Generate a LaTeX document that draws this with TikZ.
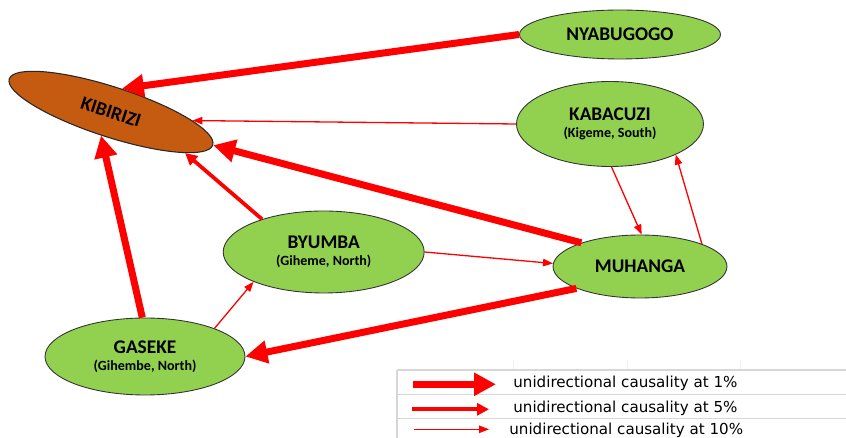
\documentclass[tikz,border=0pt]{standalone}
\usepackage{fontspec}
\setmainfont{Carlito}
\newfontfamily\legfont{DejaVu Sans}
\usetikzlibrary{arrows.meta,shapes.geometric}
\definecolor{sitegreen}{RGB}{146,208,80}
\definecolor{hubbrown}{RGB}{197,90,17}
\definecolor{gridgray}{RGB}{215,215,215}
\newcommand{\subloc}[1]{{\fontsize{8}{9}\selectfont #1}}

\begin{document}
\begin{tikzpicture}[x=0.02cm, y=-0.02cm, font=\fontsize{11}{9.5}\selectfont\bfseries]
\tikzstyle{site} = [ellipse, draw=black!80, line width=0.5pt, fill=sitegreen, inner sep=0pt, align=center]
\tikzstyle{sig1} = [-{Triangle[length=0.44cm, width=0.44cm]}, red, line width=0.14cm]
\tikzstyle{sig5} = [-{Triangle[length=0.24cm, width=0.24cm]}, red, line width=0.075cm]
\tikzstyle{sig10} = [-{Triangle[length=0.2cm, width=0.15cm]}, red, line width=0.026cm]
\tikzstyle{legtext} = [anchor=base west, inner sep=0pt, font=\legfont\fontsize{8.6}{10}\selectfont]
\useasboundingbox (0,0) rectangle (846,438);

% markets
\node[site, minimum width=4.02cm, minimum height=0.98cm] (nyab) at (620,34.5) {NYABUGOGO};
\node[ellipse, draw=black!85, line width=0.6pt, fill=hubbrown, inner sep=0pt,
      minimum width=4.28cm, minimum height=1.0cm, rotate=-18] (kib) at (111,112) {KIBIRIZI};
\node[site, minimum width=3.74cm, minimum height=1.7cm] (kab) at (610,124) {KABACUZI\\\subloc{(Kigeme, South)}};
\node[site, minimum width=4.02cm, minimum height=1.64cm] (byu) at (323.7,252) {BYUMBA\\\subloc{(Giheme, North)}};
\node[site, minimum width=3.48cm, minimum height=1.26cm] (muh) at (640,266.5) {MUHANGA};
\node[site, minimum width=4.0cm, minimum height=1.54cm] (gas) at (145,356.5) {GASEKE\\\subloc{(Gihembe, North)}};

% causality links
\draw[sig1] (nyab.west) -- (kib.83);
\draw[sig10] (kab.west) -- (kib.12);
\draw[sig1] (muh.158) -- (kib.east);
\draw[sig5] (byu.152) -- (kib.-11);
\draw[sig1] (gas.94) -- (kib.-95);
\draw[sig10] (byu.east) -- (muh.178);
\draw[sig10] (gas.22) -- (byu.203);
\draw[sig1] (muh.199) -- (gas.east);
\draw[sig10] (kab.-88) -- (muh.87);
\draw[sig10] (muh.20) -- (kab.-25);

% legend
\draw[gridgray!40, line width=0.4pt] (513,360) -- (513,370) (627,360) -- (627,370) (740,360) -- (740,370);
\draw[gridgray, line width=0.6pt] (397,370) -- (846,370) (397,394.3) -- (846,394.3)
  (397,418.3) -- (846,418.3) (397,370) -- (397,438);
\coordinate (l1a) at (413,384.3);
\coordinate (l1b) at (496,384.3);
\coordinate (l5a) at (412,409.3);
\coordinate (l5b) at (489,409.3);
\coordinate (l10a) at (414,429.3);
\coordinate (l10b) at (489,429.3);
\draw[sig1] (l1a) -- (l1b);
\draw[sig5] (l5a) -- (l5b);
\draw[sig10] (l10a) -- (l10b);
\node[legtext] (t1) at (513,387.5) {unidirectional causality at 1\%};
\node[legtext] (t5) at (513,412.5) {unidirectional causality at 5\%};
\node[legtext] (t10) at (509,434.5) {unidirectional causality at 10\%};
\end{tikzpicture}
\end{document}
